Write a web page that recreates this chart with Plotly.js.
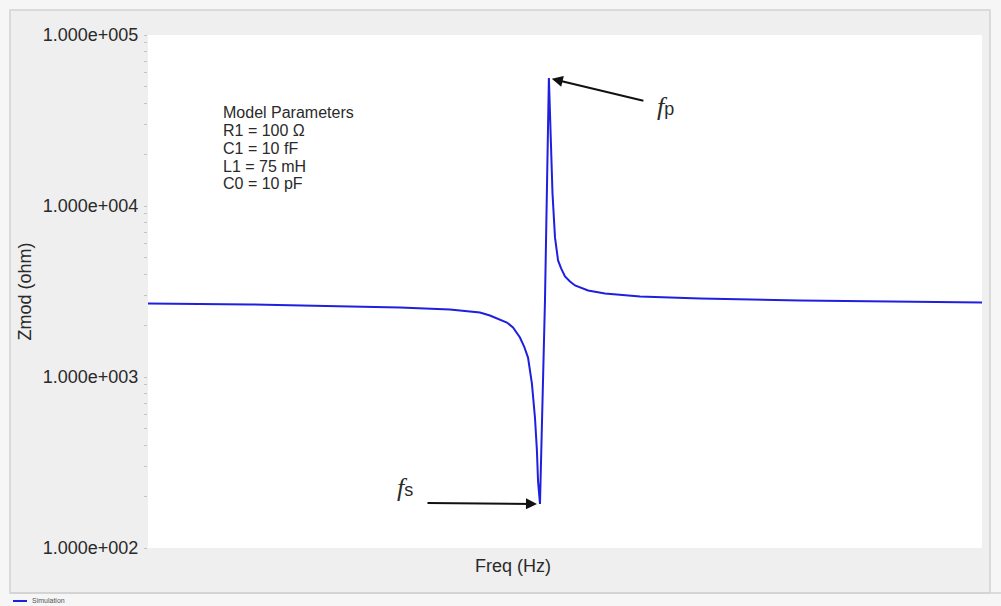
<!DOCTYPE html>
<html>
<head>
<meta charset="utf-8">
<script src="https://cdn.plot.ly/plotly-3.0.1.min.js"></script>
<style>
  html, body { margin: 0; padding: 0; background: #f6f6f6; }
  #plot { width: 1001px; height: 606px; }
</style>
</head>
<body>
<div id="plot"></div>
<script>
// impedance sweep (Hz, ohm)
var freqHz = [5.6700e6, 5.7067e6, 5.7427e6, 5.7606e6, 5.7786e6, 5.7894e6, 5.7930e6,
  5.7991e6, 5.8013e6, 5.8038e6, 5.8053e6, 5.8067e6, 5.8081e6, 5.8092e6, 5.8099e6, 5.8103e6, 5.8110e6,
  5.8128e6, 5.8142e6, 5.8150e6, 5.8155e6, 5.8164e6, 5.8175e6, 5.8186e6, 5.8200e6, 5.8218e6, 5.8236e6,
  5.8283e6, 5.8344e6, 5.8470e6, 5.8686e6, 5.9045e6, 5.9405e6, 5.9700e6];
var zmodOhm = [2692, 2657, 2585, 2551, 2482, 2384, 2289,
  2083, 1947, 1701, 1507, 1299, 915, 578, 371, 247, 181,
  2803, 55980, 25270, 11870, 6554, 4807, 4315, 3875, 3622, 3431,
  3208, 3081, 2958, 2880, 2803, 2755, 2728];

var majorVals = [100, 1000, 10000, 100000];
var majorText = ['1.000e+002', '1.000e+003', '1.000e+004', '1.000e+005'];
var paramLines = ['Model Parameters', 'R1 = 100 \u03A9', 'C1 = 10 fF', 'L1 = 75 mH', 'C0 = 10 pF'];
var seriesName = 'Simulation';
var lineColor = '#1f1fe0';

// ticks: labelled decades plus unlabelled minor ticks 2..9
var tickVals = [], tickText = [];
for (var d = 0; d < majorVals.length; d++) {
  tickVals.push(majorVals[d]);
  tickText.push(majorText[d]);
  if (d < majorVals.length - 1) {
    for (var m = 2; m <= 9; m++) {
      tickVals.push(majorVals[d] * m);
      tickText.push('');
    }
  }
}

// resonance points come from the data itself
var iMax = 0, iMin = 0;
for (var i = 0; i < zmodOhm.length; i++) {
  if (zmodOhm[i] > zmodOhm[iMax]) iMax = i;
  if (zmodOhm[i] < zmodOhm[iMin]) iMin = i;
}

var textColor = '#2a2a2a';
var font = 'Liberation Sans, Arial, sans-serif';

var annotations = [];
for (var k = 0; k < paramLines.length; k++) {
  annotations.push({
    xref: 'paper', yref: 'paper', x: 0.087, y: 0.848 - k * 0.0345,
    xanchor: 'left', yanchor: 'middle', showarrow: false,
    text: paramLines[k], font: {family: font, size: 16, color: textColor}
  });
}
// arrows
annotations.push({
  x: freqHz[iMax], y: Math.log10(zmodOhm[iMax]), xref: 'x', yref: 'y',
  text: '', showarrow: true, axref: 'pixel', ayref: 'pixel', ax: 96, ay: 23,
  arrowhead: 2, arrowsize: 1.1, arrowwidth: 2, arrowcolor: '#111', standoff: 3
});
annotations.push({
  x: freqHz[iMin], y: Math.log10(zmodOhm[iMin]), xref: 'x', yref: 'y',
  text: '', showarrow: true, axref: 'pixel', ayref: 'pixel', ax: -114, ay: -1,
  arrowhead: 2, arrowsize: 1.1, arrowwidth: 2, arrowcolor: '#111', standoff: 3
});
// f_p and f_s labels
var serifF = '<span style="font-family:Liberation Serif, serif;font-style:italic;font-size:26px">f</span>';
annotations.push({
  xref: 'paper', yref: 'paper', x: 0.621, y: 0.893, showarrow: false,
  text: serifF + '<span style="font-size:18px">p</span>',
  font: {family: font, size: 18, color: textColor}
});
annotations.push({
  xref: 'paper', yref: 'paper', x: 0.296, y: 0.085, showarrow: false,
  text: serifF + '<span style="font-size:18px">s</span>',
  font: {family: font, size: 18, color: textColor}
});
// x axis title sits left of centre in the original
annotations.push({
  xref: 'paper', yref: 'paper', x: 0.4376, y: -0.0585, showarrow: false,
  text: 'Freq (Hz)', font: {family: font, size: 18, color: textColor}
});
// legend strip along the bottom edge
annotations.push({
  xref: 'paper', yref: 'paper', x: -0.1415, y: -0.1033,
  xanchor: 'left', yanchor: 'middle', showarrow: false,
  text: seriesName, font: {family: font, size: 7, color: '#555'}
});

var trace = {
  x: freqHz, y: zmodOhm, mode: 'lines', name: seriesName,
  line: {color: lineColor, width: 2}, hoverinfo: 'none'
};

var layout = {
  width: 1001, height: 606,
  margin: {l: 148, r: 19, t: 35, b: 58, autoexpand: false},
  paper_bgcolor: '#f6f6f6',
  plot_bgcolor: '#ffffff',
  font: {family: font, color: textColor},
  showlegend: false,
  xaxis: {
    range: [5.67e6, 5.97e6], showticklabels: false, ticks: '',
    showgrid: false, zeroline: false, showline: false
  },
  yaxis: {
    type: 'log', range: [2, 5],
    tickmode: 'array', tickvals: tickVals, ticktext: tickText,
    ticks: 'outside', ticklen: 3, tickcolor: '#c4c4c4', tickwidth: 1,
    ticklabelstandoff: 2,
    tickfont: {family: font, size: 18, color: textColor},
    showgrid: false, zeroline: false, showline: false,
    title: {text: 'Zmod (ohm)', standoff: 6, font: {family: font, size: 18, color: textColor}}
  },
  shapes: [
    {type: 'rect', xref: 'paper', yref: 'paper', layer: 'below',
     x0: -0.1655, x1: 1.0096, y0: -0.0877, y1: 1.0487,
     fillcolor: '#efefef', line: {color: '#d2d2d2', width: 1.5}},
    {type: 'line', xref: 'paper', yref: 'paper', layer: 'below',
     x0: -0.1655, x1: 1.03, y0: -0.0877, y1: -0.0877,
     line: {color: '#d2d2d2', width: 1.5}},
    {type: 'rect', xref: 'paper', yref: 'paper', layer: 'below',
     x0: 0, x1: 1, y0: 0, y1: 1,
     fillcolor: '#ffffff', line: {width: 0}},
    {type: 'line', xref: 'paper', yref: 'paper',
     x0: -0.1619, x1: -0.1451, y0: -0.1033, y1: -0.1033,
     line: {color: lineColor, width: 2}}
  ],
  annotations: annotations
};

Plotly.newPlot('plot', [trace], layout, {displayModeBar: false, staticPlot: true});
</script>
</body>
</html>
